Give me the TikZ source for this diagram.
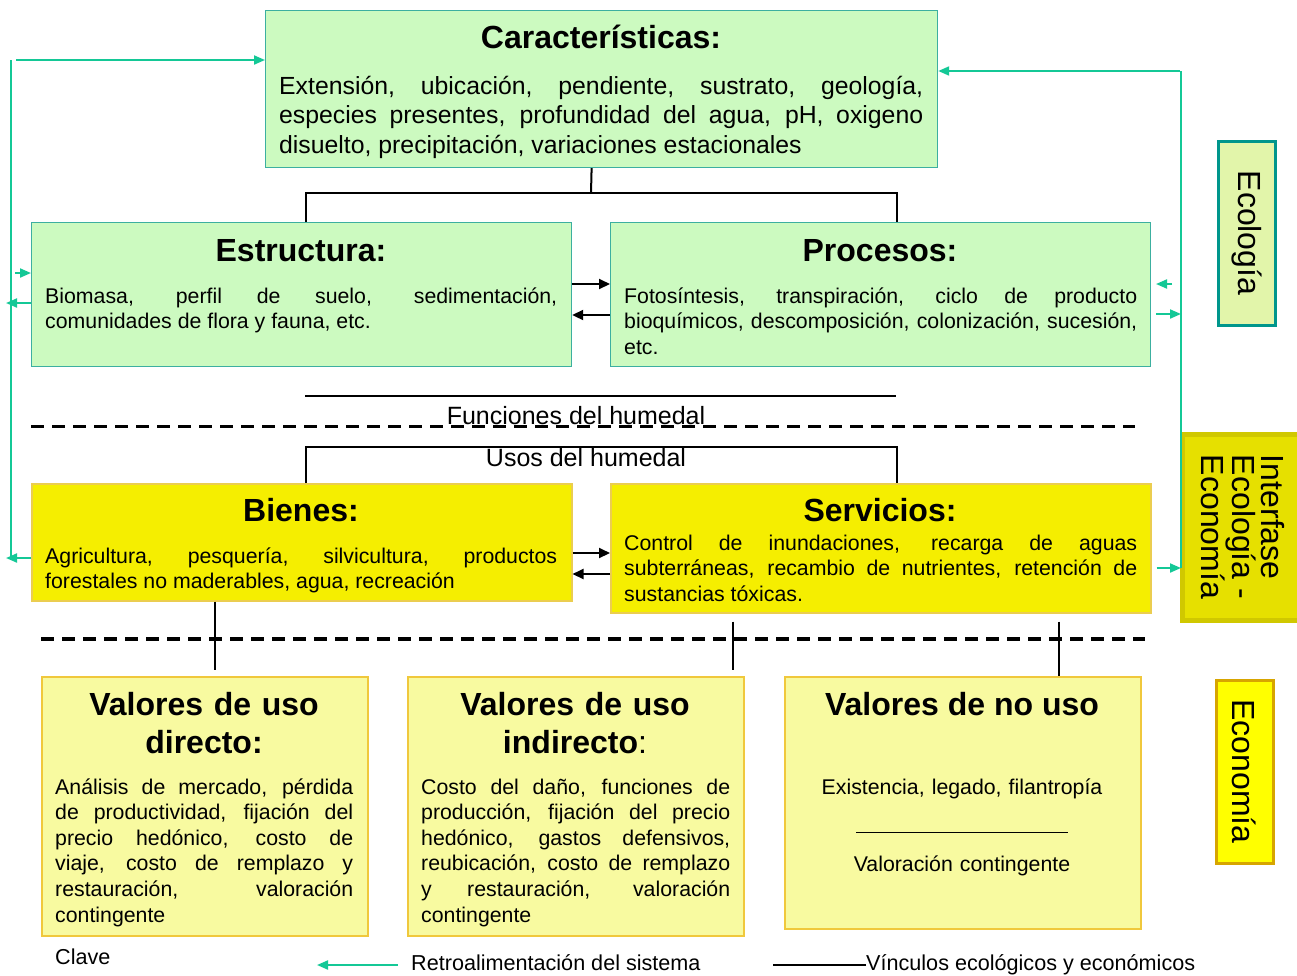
\documentclass[tikz,border=0pt]{standalone}
\usepackage{fontspec}
\setmainfont{Liberation Sans}
\usetikzlibrary{arrows.meta}
\definecolor{rellenoVerde}{RGB}{204,250,192}
\definecolor{bordeVerde}{RGB}{60,175,160}
\definecolor{rellenoBien}{RGB}{245,238,0}
\definecolor{bordeBien}{RGB}{235,205,80}
\definecolor{rellenoValor}{RGB}{248,250,160}
\definecolor{bordeValor}{RGB}{240,200,60}
\definecolor{verdeRetro}{RGB}{20,200,150}
\definecolor{rellenoEco}{RGB}{226,245,170}
\definecolor{bordeEco}{RGB}{0,150,140}
\definecolor{rellenoInter}{RGB}{230,224,0}
\definecolor{bordeInter}{RGB}{208,200,0}
\definecolor{rellenoEcon}{RGB}{255,255,0}
\definecolor{bordeEcon}{RGB}{215,165,0}

\begin{document}
\begin{tikzpicture}[
    x=1pt, y=-1pt,
    caja/.style={draw, inner sep=0pt, anchor=north west, line width=1.2pt},
    cajaVerde/.style={caja, draw=bordeVerde, fill=rellenoVerde},
    cajaBien/.style={caja, draw=bordeBien, fill=rellenoBien, line width=1.5pt},
    cajaValor/.style={caja, draw=bordeValor, fill=rellenoValor, line width=1.5pt},
    etiqueta/.style={draw, rotate=-90, inner sep=0pt, font=\fontsize{32}{29}\selectfont},
    titulo/.style={anchor=base, inner sep=0pt, font=\fontsize{32}{38}\selectfont\bfseries},
    cuerpo/.style={anchor=base west, inner sep=0pt, align=justify, font=\fontsize{21.3}{25.6}\selectfont},
    leyenda/.style={anchor=base west, inner sep=0pt, font=\fontsize{21.6}{25}\selectfont},
    retro/.style={verdeRetro, line width=2pt},
    retroFlecha/.style={retro, -{Triangle[length=11pt,width=9pt]}},
    vinculo/.style={black, line width=2pt},
    flecha/.style={vinculo, -{Triangle[length=11pt,width=10pt]}},
    divisoria/.style={black, line width=3pt, dash pattern=on 13pt off 8pt}
]
    \useasboundingbox (0,0) rectangle (1297,975);

    % --- NIVEL ECOLOGICO ---
    \node[cajaVerde, minimum width=672pt, minimum height=157pt] (caract) at (265,10) {};
    \node[titulo] (caractTit) at (601,48) {Características:};
    \node[cuerpo, text width=644pt, font=\fontsize{24.8}{29.6}\selectfont] (caractTxt) at (279,94)
        {Extensión, ubicación, pendiente, sustrato, geología,\linebreak especies presentes, profundidad del agua, pH, oxigeno\linebreak disuelto, precipitación, variaciones estacionales};

    \node[cajaVerde, minimum width=540pt, minimum height=144pt] (estructura) at (31,222) {};
    \node[titulo] (estructuraTit) at (301,261) {Estructura:};
    \node[cuerpo, text width=512pt] (estructuraTxt) at (45,303)
        {Biomasa, perfil de suelo, sedimentación,\linebreak comunidades de flora y fauna, etc.};

    \node[cajaVerde, minimum width=540pt, minimum height=144pt] (procesos) at (610,222) {};
    \node[titulo] (procesosTit) at (880,261) {Procesos:};
    \node[cuerpo, text width=513pt] (procesosTxt) at (624,303)
        {Fotosíntesis, transpiración, ciclo de producto\linebreak bioquímicos, descomposición, colonización, sucesión,\linebreak etc.};

    % --- BIENES Y SERVICIOS ---
    \node[cajaBien, minimum width=540pt, minimum height=117pt] (bienes) at (31,483) {};
    \node[titulo] (bienesTit) at (301,521) {Bienes:};
    \node[cuerpo, text width=512pt] (bienesTxt) at (45,563)
        {Agricultura, pesquería, silvicultura, productos\linebreak forestales no maderables, agua, recreación};

    \node[cajaBien, minimum width=540pt, minimum height=129pt] (servicios) at (610,483) {};
    \node[titulo] (serviciosTit) at (880,521) {Servicios:};
    \node[cuerpo, text width=513pt] (serviciosTxt) at (624,550)
        {Control de inundaciones, recarga de aguas\linebreak subterráneas, recambio de nutrientes, retención de\linebreak sustancias tóxicas.};

    % --- VALORES ---
    \node[cajaValor, minimum width=326pt, minimum height=259pt] (valDir) at (41,676) {};
    \node[titulo, text width=320pt, align=center] (valDirTit) at (204,715) {Valores de uso\\directo:};
    \node[cuerpo, text width=298pt] (valDirTxt) at (55,794)
        {Análisis de mercado, pérdida\linebreak de productividad, fijación del\linebreak precio hedónico, costo de\linebreak viaje, costo de remplazo y\linebreak restauración, valoración\linebreak contingente};

    \node[cajaValor, minimum width=336pt, minimum height=259pt] (valInd) at (407,676) {};
    \node[titulo, text width=330pt, align=center] (valIndTit) at (575,715) {Valores de uso\\indirecto{\mdseries:}};
    \node[cuerpo, text width=309pt] (valIndTxt) at (421,794)
        {Costo del daño, funciones de\linebreak producción, fijación del precio\linebreak hedónico, gastos defensivos,\linebreak reubicación, costo de remplazo\linebreak y restauración, valoración\linebreak contingente};

    \node[cajaValor, minimum width=356pt, minimum height=252pt] (valNoUso) at (784,676) {};
    \node[titulo] (valNoUsoTit) at (962,715) {Valores de no uso};
    \node[anchor=base, inner sep=0pt, text width=340pt, align=center, font=\fontsize{21.3}{38.5}\selectfont] (valNoUsoTxt) at (962,794)
        {Existencia, legado, filantropía\\\rule{212pt}{1pt}\\Valoración contingente};

    % --- ETIQUETAS LATERALES ---
    \node[etiqueta, draw=bordeEco, fill=rellenoEco, line width=3pt, minimum width=184pt, minimum height=57pt] (ecologia) at (1247,233) {Ecología};
    \node[etiqueta, draw=bordeInter, fill=rellenoInter, line width=5pt, minimum width=186pt, minimum height=122pt, align=left] (interfase) at (1243,527) {Interfase\\Ecología -\\Economía};
    \node[etiqueta, draw=bordeEcon, fill=rellenoEcon, line width=3pt, minimum width=183pt, minimum height=57pt] (economia) at (1244.5,771.5) {Economía};

    % --- VINCULOS ---
    \coordinate (ramaSup) at (591,193);
    \draw[vinculo] ([xshift=-10pt]caract.south) -- (ramaSup);
    \draw[vinculo] ([xshift=4pt]estructura.north) |- (ramaSup) -| ([xshift=16pt]procesos.north);
    \draw[flecha] (estructura.east |- 0,284) -- (procesos.west |- 0,284);
    \draw[flecha] (procesos.west |- 0,315) -- (estructura.east |- 0,315);

    \coordinate (funIzq) at (305,396);
    \coordinate (funDer) at (896,396);
    \draw[vinculo] (funIzq) -- (funDer);
    \draw[divisoria] (31,426) -- (1135,426);
    \node[anchor=base, inner sep=0pt, font=\fontsize{25}{30}\selectfont] (funciones) at (576,424) {Funciones del humedal};

    \draw[vinculo] ([xshift=4pt]bienes.north) |- (586,447) -| ([xshift=16pt]servicios.north);
    \node[anchor=base, inner sep=0pt, font=\fontsize{25}{30}\selectfont] (usos) at (586,466) {Usos del humedal};

    \draw[flecha] (bienes.east |- 0,553) -- (servicios.west |- 0,553);
    \draw[flecha] (servicios.west |- 0,574) -- (bienes.east |- 0,574);

    \draw[divisoria, line width=4pt] (41,639) -- (1145,639);
    \draw[vinculo, shorten >=6pt] (bienes.south -| 215,0) -- (valDir.north -| 215,0);
    \draw[vinculo, shorten <=8pt, shorten >=6pt] (servicios.south -| 733,0) -- (valInd.north -| 733,0);
    \draw[vinculo, shorten <=8pt] (servicios.south -| 1059,0) -- (valNoUso.north -| 1059,0);

    % --- RETROALIMENTACION ---
    \draw[retro] (11,60) -- (11,558);
    \draw[retroFlecha] (16,60) -- (caract.west |- 0,60);
    \draw[retroFlecha] (15,273) -- (estructura.west |- 0,273);
    \draw[retroFlecha] (estructura.west |- 0,303) -- (6,303);
    \draw[retroFlecha] (bienes.west |- 0,558) -- (6,558);

    \draw[retro] (1181,71) -- (1181,568);
    \draw[retroFlecha] (1180,71) -- (caract.east |- 0,71);
    \draw[retroFlecha] (1172,284) -- (1156,284);
    \draw[retroFlecha, shorten <=5pt] (procesos.east |- 0,314) -- (1181,314);
    \draw[retroFlecha, shorten <=5pt] (servicios.east |- 0,568) -- (1181,568);

    % --- CLAVE ---
    \node[leyenda] (clave) at (55,964) {Clave};
    \node[leyenda] (leyRetro) at (411,970) {Retroalimentación del sistema};
    \node[leyenda] (leyVinc) at (866,970) {Vínculos ecológicos y económicos};
    \draw[retroFlecha] ([shift={(-13pt,5pt)}]leyRetro.base west) -- ++(-81,0);
    \draw[vinculo, line width=1.5pt] ([yshift=5pt]leyVinc.base west) -- ++(-93,0);

\end{tikzpicture}
\end{document}
